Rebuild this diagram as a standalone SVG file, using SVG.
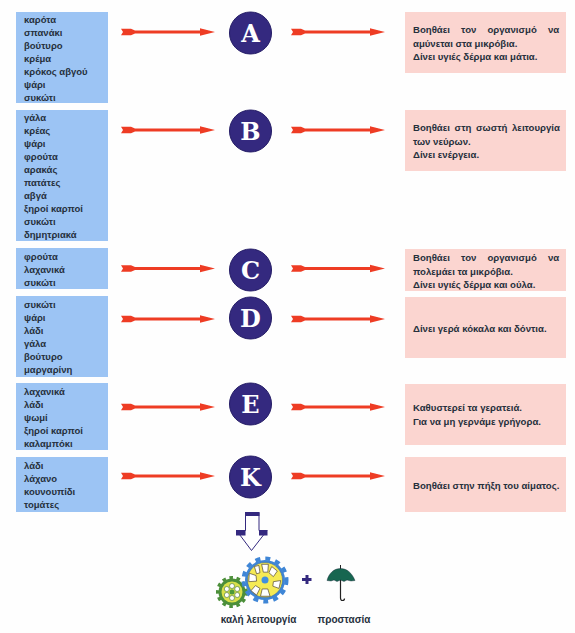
<svg xmlns="http://www.w3.org/2000/svg" width="575" height="633" viewBox="0 0 575 633">
<style>
.l{fill:#9cc4f4}
.r{fill:#fbd5d0}
text{font-family:"Liberation Sans",Arial,sans-serif;font-weight:700;font-size:10px;fill:#26303c}
.f text{font-size:9.500px}
.p text{font-size:9.600px}
.c{fill:#34297f;stroke:#241c66;stroke-width:1}
.k{font-family:"DejaVu Serif","Liberation Serif",serif;font-size:24px;font-weight:700;fill:#fff;text-anchor:middle}
</style>
<defs>
<g id="arr"><path d="M0-3.200 10-3.200 14-1.400 79-1.400 79-3.800 94 0 79 3.800 79 1.400 14 1.400 10 3.200 0 3.200 2 0Z" fill="#ee3c24"/></g>
</defs>
<rect width="575" height="633" fill="#fefefe"/>
<g id="connectors">
<use href="#arr" x="121" y="32"/><use href="#arr" x="291" y="32"/>
<use href="#arr" x="121" y="130"/><use href="#arr" x="291" y="130"/>
<use href="#arr" x="121" y="268.500"/><use href="#arr" x="291" y="268.500"/>
<use href="#arr" x="121" y="319"/><use href="#arr" x="291" y="319"/>
<use href="#arr" x="121" y="407"/><use href="#arr" x="291" y="407"/>
<use href="#arr" x="121" y="476"/><use href="#arr" x="291" y="476"/>
</g>
<g id="foods-a" class="f"><rect class="l" x="16" y="12" width="92" height="91"/>
<text x="24" y="23">καρότα</text><text x="24" y="36">σπανάκι</text><text x="24" y="49">βούτυρο</text><text x="24" y="62">κρέμα</text><text x="24" y="75">κρόκος αβγού</text><text x="24" y="88">ψάρι</text><text x="24" y="101">συκώτι</text></g>
<g id="foods-b" class="f"><rect class="l" x="16" y="110" width="92" height="131"/>
<text x="24" y="121">γάλα</text><text x="24" y="134">κρέας</text><text x="24" y="147">ψάρι</text><text x="24" y="160">φρούτα</text><text x="24" y="173">αρακάς</text><text x="24" y="186">πατάτες</text><text x="24" y="199">αβγά</text><text x="24" y="212">ξηροί καρποί</text><text x="24" y="225">συκώτι</text><text x="24" y="238">δημητριακά</text></g>
<g id="foods-c" class="f"><rect class="l" x="16" y="248" width="92" height="41"/>
<text x="24" y="260">φρούτα</text><text x="24" y="273">λαχανικά</text><text x="24" y="286">συκώτι</text></g>
<g id="foods-d" class="f"><rect class="l" x="16" y="296" width="92" height="81"/>
<text x="24" y="308">συκώτι</text><text x="24" y="321">ψάρι</text><text x="24" y="334">λάδι</text><text x="24" y="347">γάλα</text><text x="24" y="360">βούτυρο</text><text x="24" y="373">μαργαρίνη</text></g>
<g id="foods-e" class="f"><rect class="l" x="16" y="383" width="92" height="67"/>
<text x="24" y="395">λαχανικά</text><text x="24" y="408">λάδι</text><text x="24" y="421">ψωμί</text><text x="24" y="434">ξηροί καρποί</text><text x="24" y="447">καλαμπόκι</text></g>
<g id="foods-k" class="f"><rect class="l" x="16" y="457" width="92" height="55"/>
<text x="24" y="469">λάδι</text><text x="24" y="482">λάχανο</text><text x="24" y="495">κουνουπίδι</text><text x="24" y="508">τομάτες</text></g>
<g id="vit-a"><circle class="c" cx="250.500" cy="33" r="21"/><text class="k" x="250.500" y="42">A</text></g>
<g id="vit-b"><circle class="c" cx="250.500" cy="131" r="21"/><text class="k" x="250.500" y="140">B</text></g>
<g id="vit-c"><circle class="c" cx="250.500" cy="270" r="21"/><text class="k" x="250.500" y="279">C</text></g>
<g id="vit-d"><circle class="c" cx="250.500" cy="318" r="21"/><text class="k" x="250.500" y="327">D</text></g>
<g id="vit-e"><circle class="c" cx="250.500" cy="404" r="21"/><text class="k" x="250.500" y="413">E</text></g>
<g id="vit-k"><circle class="c" cx="250.500" cy="477" r="21"/><text class="k" x="250.500" y="486">K</text></g>
<g id="effect-a" class="p"><rect class="r" x="405" y="12" width="161" height="61"/>
<text x="413" y="33" word-spacing="8.500px">Βοηθάει τον οργανισμό να</text><text x="413" y="47">αμύνεται στα μικρόβια.</text><text x="413" y="60">Δίνει υγιές δέρμα και μάτια.</text></g>
<g id="effect-b" class="p"><rect class="r" x="405" y="110" width="161" height="61"/>
<text x="413" y="131" word-spacing="2px">Βοηθάει στη σωστή λειτουργία</text><text x="413" y="145">των νεύρων.</text><text x="413" y="158">Δίνει ενέργεια.</text></g>
<g id="effect-c" class="p"><rect class="r" x="405" y="249" width="161" height="42"/>
<text x="413" y="261" word-spacing="8.500px">Βοηθάει τον οργανισμό να</text><text x="413" y="275">πολεμάει τα μικρόβια.</text><text x="413" y="288">Δίνει υγιές δέρμα και ούλα.</text></g>
<g id="effect-d" class="p"><rect class="r" x="405" y="297" width="161" height="61"/>
<text x="413" y="332">Δίνει γερά κόκαλα και δόντια.</text></g>
<g id="effect-e" class="p"><rect class="r" x="405" y="384" width="161" height="61"/>
<text x="413" y="411">Καθυστερεί τα γερατειά.</text><text x="413" y="425">Για να μη γερνάμε γρήγορα.</text></g>
<g id="effect-k" class="p"><rect class="r" x="405" y="457" width="161" height="55"/>
<text x="413" y="489">Βοηθάει στην πήξη του αίματος.</text></g>
<g id="down-arrow">
<path d="M245.500 512.500H259V530.500H267L251.500 550.500 236.500 530.500H245.500Z" fill="#fff" stroke="#34297f" stroke-width="1"/>
<rect x="245" y="512" width="14.500" height="4" fill="#34297f"/><rect x="236" y="530" width="9.500" height="5.500" fill="#34297f"/><rect x="259" y="530" width="8.500" height="5.500" fill="#34297f"/>
</g>
<g id="gear-small">
<circle cx="232" cy="592" r="13.500" fill="#4c8f3a"/>
<circle cx="232" cy="592" r="14" fill="none" stroke="#4c8f3a" stroke-width="4" stroke-dasharray="3.500 3.500"/>
<circle cx="232" cy="592" r="10.500" fill="#d8e04a"/>
<circle cx="232" cy="592" r="2.500" fill="#4c9a3c"/>
<g fill="#fff" stroke="#3c6e30" stroke-width=".6"><circle cx="232" cy="586" r="2.500"/><circle cx="237.200" cy="589" r="2.500"/><circle cx="237.200" cy="595" r="2.500"/><circle cx="232" cy="598" r="2.500"/><circle cx="226.800" cy="595" r="2.500"/><circle cx="226.800" cy="589" r="2.500"/></g>
</g>
<g id="gear-big">
<circle cx="265" cy="580" r="20" fill="#3f86d6"/>
<circle cx="265" cy="580" r="21.500" fill="none" stroke="#3f86d6" stroke-width="4" stroke-dasharray="5 5.100"/>
<circle cx="265" cy="580" r="17.500" fill="#f5ea55" stroke="#2f5fa0" stroke-width=".5"/>
<circle cx="265" cy="580" r="3.500" fill="#3f8fe0"/>
<g fill="#fff" stroke="#4a4030" stroke-width=".6" transform="translate(265 580) scale(1.12) translate(-265 -580)"><path d="M262 566h6l-.5 7h-4z"/><path d="M271 568l5 4-3.500 5-4-3.500z"/><path d="M272.500 581.500l6.500-1-1.500 7-5.500-2z"/><path d="M262.500 588h5l2 6.500h-8.500z"/><path d="M256.500 585l4 2.500-3 6-5-4z"/><path d="M251 574l6 2 .5 5-7 .5z"/><path d="M255.500 568l4-1 1 6.500-3 1z"/></g>
</g>
<path id="plus" d="M305.500 575h3v3h3v3h-3v3h-3v-3h-3.500v-3h3.500z" fill="#34297f"/>
<g id="umbrella">
<path d="M340.500 565v5" stroke="#222" stroke-width="1" fill="none"/>
<path d="M340.500 570v28q0 2.500 2 2.500t2-2" stroke="#222" stroke-width="1.200" fill="none"/>
<path d="M327 580.500C329 573 334 568.500 340.500 568.500S352 573 355 580.500L351 581 347 580 344 581.500 340.500 580 337 581.500 334 580 331 581Z" fill="#176650" stroke="#123" stroke-width=".4"/>
</g>
<g id="labels">
<text x="258.500" y="623" text-anchor="middle">καλή λειτουργία</text>
<text x="344" y="623" text-anchor="middle">προστασία</text>
</g>
</svg>
